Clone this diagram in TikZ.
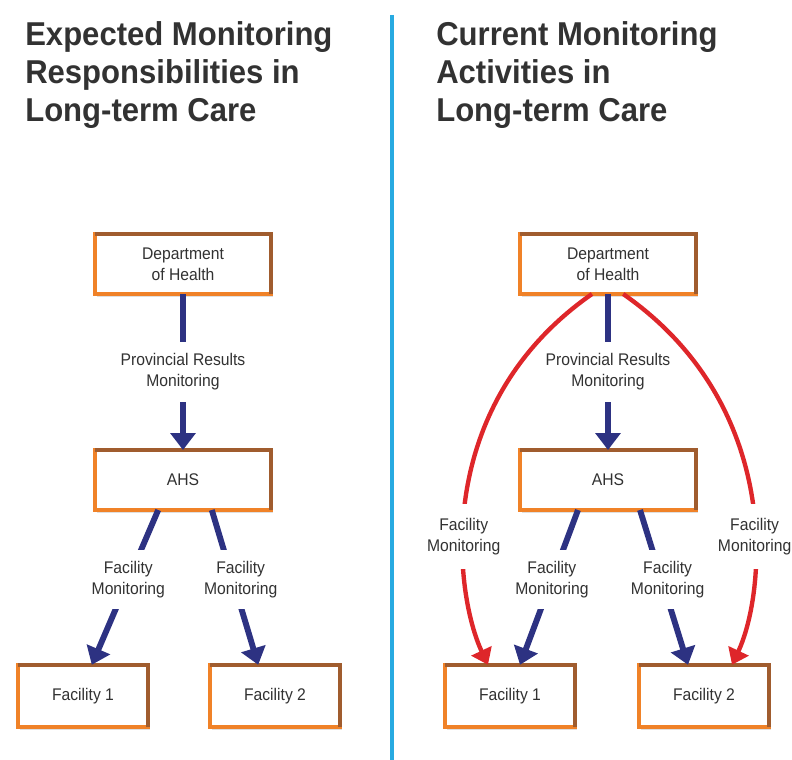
\documentclass[tikz,border=0pt]{standalone}
\usepackage{fontspec}
\setmainfont{Liberation Sans}
\newfontfamily\headfont{Liberation Sans}[FakeStretch=0.94]
\newfontfamily\boxfont{Liberation Sans}[FakeStretch=0.93]
\usepackage{tikz}
\usetikzlibrary{arrows.meta, shadows}
\definecolor{navy}{RGB}{45,50,130}
\definecolor{flagred}{RGB}{222,38,42}
\definecolor{boxorange}{RGB}{240,130,40}
\definecolor{boxbrown}{RGB}{160,92,46}
\definecolor{skyline}{RGB}{40,170,225}
\definecolor{inkgray}{RGB}{50,50,50}

\begin{document}
\begin{tikzpicture}[x=0.025cm, y=-0.025cm,
    title/.style={anchor=north west, inner sep=0pt, align=left, text=inkgray,
        font=\headfont\fontsize{23.5}{27}\selectfont\bfseries},
    orgbox/.style={draw=boxorange, line width=3.2pt, fill=white, outer sep=0pt,
        text=inkgray, align=center, font=\boxfont\fontsize{12}{15}\selectfont,
        drop shadow={opacity=0.25, shadow xshift=1.5pt, shadow yshift=-2pt}},
    bigbox/.style={orgbox, minimum width=4.4cm, minimum height=1.5cm},
    smallbox/.style={orgbox, minimum width=3.25cm, minimum height=1.56cm},
    boxtop/.style={draw=boxbrown, line width=3.2pt},
    blueflow/.style={navy, line width=4.2pt, -{Triangle[width=17.5pt,length=12pt]}},
    redflow/.style={flagred, line width=3.1pt, -{Triangle[width=15.5pt,length=11pt]}},
    lbl/.style={fill=white, text=inkgray, align=center, inner xsep=2pt, inner ysep=8pt,
        font=\boxfont\fontsize{12}{15}\selectfont},
    divider/.style={skyline, line width=2.2pt}]

    \useasboundingbox (0,0) rectangle (792,760);

    % titles and middle rule
    \node[title] (titleL) at (25,21) {Expected Monitoring\\Responsibilities in\\Long-term Care};
    \node[title] (titleR) at (436,21) {Current Monitoring\\Activities in\\Long-term Care};
    \draw[divider] (392,15) -- (392,760);

    % expected
    \node[bigbox] (deptL) at (183,264) {Department\\of Health};
    \node[bigbox] (ahsL) at (183,480) {AHS};
    \node[smallbox] (f1L) at (83,696) {Facility 1};
    \node[smallbox] (f2L) at (275,696) {Facility 2};

    % current
    \node[bigbox] (deptR) at (608,264) {Department\\of Health};
    \node[bigbox] (ahsR) at (608,480) {AHS};
    \node[smallbox] (f1R) at (510,696) {Facility 1};
    \node[smallbox] (f2R) at (704,696) {Facility 2};

    \foreach \n in {deptL, ahsL, f1L, f2L, deptR, ahsR, f1R, f2R}
        \draw[boxtop] (\n.north west) -- (\n.north east) -- (\n.south east);

    % expected flows
    \draw[blueflow] (deptL.south) -- (ahsL.north)
        node[lbl, midway] {Provincial Results\\Monitoring};
    \draw[blueflow] ([xshift=-0.62cm]ahsL.south) -- ([xshift=0.22cm]f1L.north)
        node[lbl, pos=0.45] {Facility\\Monitoring};
    \draw[blueflow] ([xshift=0.72cm]ahsL.south) -- ([xshift=-0.42cm]f2L.north)
        node[lbl, pos=0.45, xshift=0.2cm] {Facility\\Monitoring};

    % current flows
    \draw[redflow] ([xshift=-0.4cm]deptR.south) .. controls +(-162,113) and +(-33,-70) .. ([xshift=-0.55cm]f1R.north)
        node[lbl, pos=0.6, inner ysep=10pt] {Facility\\Monitoring};
    \draw[redflow] ([xshift=0.38cm]deptR.south) .. controls +(162,113) and +(33,-70) .. ([xshift=0.7cm]f2R.north)
        node[lbl, pos=0.6, inner ysep=10pt] {Facility\\Monitoring};
    \draw[blueflow] (deptR.south) -- (ahsR.north)
        node[lbl, midway] {Provincial Results\\Monitoring};
    \draw[blueflow] ([xshift=-0.75cm]ahsR.south) -- ([xshift=0.25cm]f1R.north)
        node[lbl, pos=0.45] {Facility\\Monitoring};
    \draw[blueflow] ([xshift=0.8cm]ahsR.south) -- ([xshift=-0.4cm]f2R.north)
        node[lbl, pos=0.45, xshift=0.15cm] {Facility\\Monitoring};

\end{tikzpicture}
\end{document}
